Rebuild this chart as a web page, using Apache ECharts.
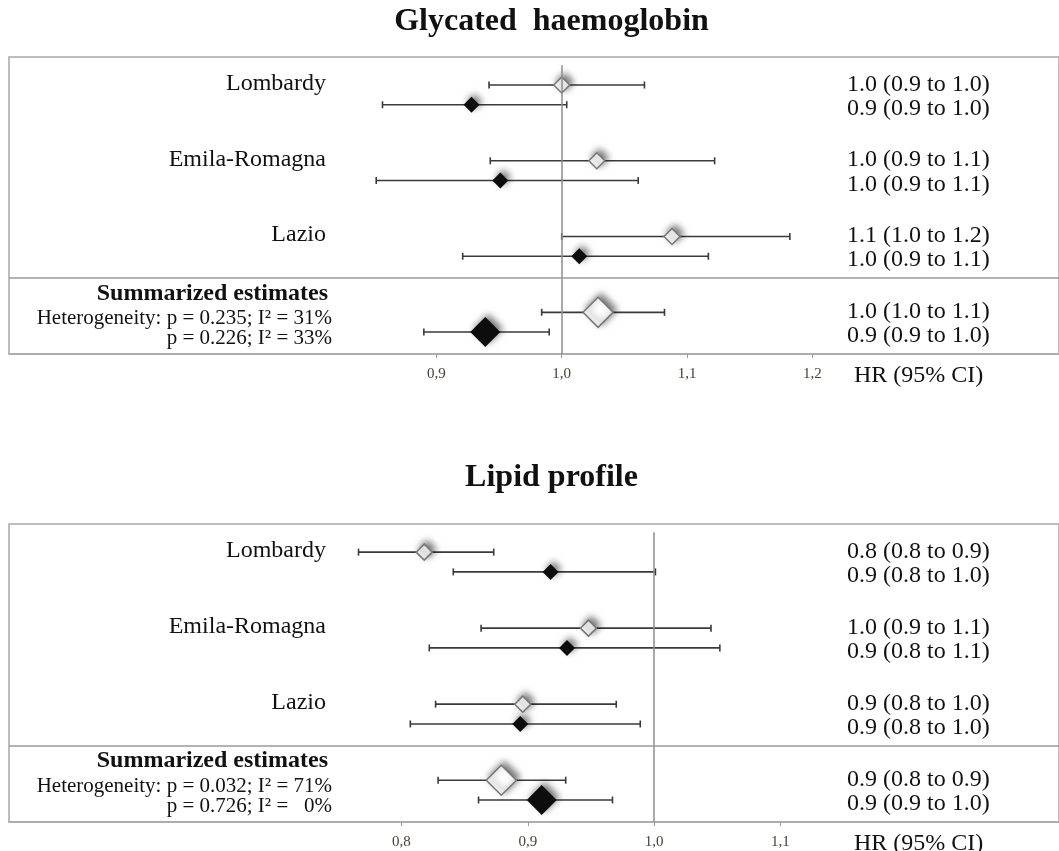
<!DOCTYPE html>
<html>
<head>
<meta charset="utf-8">
<script src="https://cdn.jsdelivr.net/npm/echarts@6/dist/echarts.min.js"></script>
<style>
  html, body { margin: 0; padding: 0; background: #ffffff; }
  #chart { width: 1059px; height: 851px; }
</style>
</head>
<body>
<div id="chart"></div>
<script>
// ---- data -------------------------------------------------------------
const regions = ['Lombardy', 'Emila-Romagna', 'Lazio'];
const summaryTitle = 'Summarized estimates';
const heteroPrefix = 'Heterogeneity: ';
const axisTitle = 'HR (95% CI)';

// Glycated haemoglobin (rows: Lombardy, Emila-Romagna, Lazio, summary)
const hbaTitle = 'Glycated  haemoglobin';
const hbaOpenHR   = [1.000, 1.028, 1.088, 1.029];
const hbaOpenLow  = [0.942, 0.943, 1.000, 0.984];
const hbaOpenHigh = [1.066, 1.122, 1.182, 1.082];
const hbaFillHR   = [0.928, 0.951, 1.014, 0.939];
const hbaFillLow  = [0.857, 0.852, 0.921, 0.890];
const hbaFillHigh = [1.004, 1.061, 1.117, 0.990];
const hbaOpenText = ['1.0 (0.9 to 1.0)', '1.0 (0.9 to 1.1)', '1.1 (1.0 to 1.2)', '1.0 (1.0 to 1.1)'];
const hbaFillText = ['0.9 (0.9 to 1.0)', '1.0 (0.9 to 1.1)', '1.0 (0.9 to 1.1)', '0.9 (0.9 to 1.0)'];
const hbaHetero   = ['p = 0.235; I² = 31%', 'p = 0.226; I² = 33%'];
const hbaTicks    = [0.9, 1.0, 1.1, 1.2];

// Lipid profile
const lipTitle = 'Lipid profile';
const lipOpenHR   = [0.818, 0.948, 0.896, 0.879];
const lipOpenLow  = [0.766, 0.863, 0.827, 0.829];
const lipOpenHigh = [0.873, 1.045, 0.970, 0.930];
const lipFillHR   = [0.918, 0.931, 0.894, 0.911];
const lipFillLow  = [0.841, 0.822, 0.807, 0.861];
const lipFillHigh = [1.001, 1.052, 0.989, 0.967];
const lipOpenText = ['0.8 (0.8 to 0.9)', '1.0 (0.9 to 1.1)', '0.9 (0.8 to 1.0)', '0.9 (0.8 to 0.9)'];
const lipFillText = ['0.9 (0.8 to 1.0)', '0.9 (0.8 to 1.1)', '0.9 (0.8 to 1.0)', '0.9 (0.9 to 1.0)'];
const lipHetero   = ['p = 0.032; I² = 71%', 'p = 0.726; I² =   0%'];
const lipTicks    = [0.8, 0.9, 1.0, 1.1];

// ---- layout -----------------------------------------------------------
const SERIF = '"Liberation Serif", "DejaVu Serif", serif';
const W = 1059;
const GRID_LEFT = 9, GRID_RIGHT = -3;
const ROW_OFF = 0.13;          // vertical offset of the two estimates in a group
const Y_MIN = -0.5, Y_MAX = 3.42, SEP_Y = 2.42, REF_TOP = -0.39;

const panels = [
  { title: hbaTitle, titleY: 22, top: 57, height: 297, oneAt: 563.3, pxPerUnit: 1257,
    openHR: hbaOpenHR, openLow: hbaOpenLow, openHigh: hbaOpenHigh,
    fillHR: hbaFillHR, fillLow: hbaFillLow, fillHigh: hbaFillHigh,
    openText: hbaOpenText, fillText: hbaFillText, hetero: hbaHetero, ticks: hbaTicks },
  { title: lipTitle, titleY: 478, top: 524, height: 298, oneAt: 656, pxPerUnit: 1267,
    openHR: lipOpenHR, openLow: lipOpenLow, openHigh: lipOpenHigh,
    fillHR: lipFillHR, fillLow: lipFillLow, fillHigh: lipFillHigh,
    openText: lipOpenText, fillText: lipFillText, hetero: lipHetero, ticks: lipTicks }
];

const chart = echarts.init(document.getElementById('chart'), null, { renderer: 'canvas' });

function renderCI(params, api) {
  const y = api.value(0);
  const a = api.coord([api.value(1), y]);
  const b = api.coord([api.value(2), y]);
  const cap = 3.5;
  const st = { stroke: '#3a3a3a', lineWidth: 1.6 };
  return {
    type: 'group',
    children: [
      { type: 'line', shape: { x1: a[0], y1: a[1], x2: b[0], y2: b[1] }, style: st },
      { type: 'line', shape: { x1: a[0], y1: a[1] - cap, x2: a[0], y2: a[1] + cap }, style: st },
      { type: 'line', shape: { x1: b[0], y1: b[1] - cap, x2: b[0], y2: b[1] + cap }, style: st }
    ]
  };
}

const diamondSize = (val, p) => (p.dataIndex === 3 ? 30 : 16);
const shadow = { shadowBlur: 7, shadowColor: 'rgba(0,0,0,0.55)', shadowOffsetX: 3, shadowOffsetY: -3 };

const grids = [], xAxes = [], yAxes = [], series = [];
panels.forEach((p, i) => {
  grids.push({ left: GRID_LEFT, right: GRID_RIGHT, top: p.top, height: p.height,
    show: true, borderColor: '#a8a8a8', borderWidth: 1.5, backgroundColor: 'transparent' });
  const xLeft = GRID_LEFT, xRight = W - GRID_RIGHT;
  xAxes.push({
    type: 'value', gridIndex: i, position: 'bottom',
    min: 1 - (p.oneAt - xLeft) / p.pxPerUnit,
    max: 1 + (xRight - p.oneAt) / p.pxPerUnit,
    axisLine: { show: true, onZero: false, lineStyle: { color: '#a8a8a8', width: 1.5 } },
    axisTick: { show: true, customValues: p.ticks, length: 4, lineStyle: { color: '#9a9a9a', width: 1 } },
    axisLabel: { show: true, customValues: p.ticks, margin: 13, fontFamily: SERIF, fontSize: 15,
      color: '#4a4035', formatter: v => v.toFixed(1).replace('.', ',') },
    splitLine: { show: false }
  });
  yAxes.push({ type: 'value', gridIndex: i, inverse: true, min: Y_MIN, max: Y_MAX, show: false });

  // reference line at HR = 1 and the separator above the summary row
  series.push({
    type: 'scatter', xAxisIndex: i, yAxisIndex: i, data: [], z: 1, silent: true,
    markLine: {
      silent: true, symbol: ['none', 'none'], label: { show: false }, animation: false,
      data: [
        [{ coord: [1, REF_TOP], lineStyle: { color: '#8c8c8c', width: 1.5, type: 'solid' } },
         { coord: [1, Y_MAX] }],
        { yAxis: SEP_Y, lineStyle: { color: '#9a9a9a', width: 1.5, type: 'solid' } }
      ]
    }
  });

  const openCI = p.openHR.map((v, k) => [k - ROW_OFF, p.openLow[k], p.openHigh[k]]);
  const fillCI = p.fillHR.map((v, k) => [k + ROW_OFF, p.fillLow[k], p.fillHigh[k]]);
  series.push({ type: 'custom', xAxisIndex: i, yAxisIndex: i, z: 2, silent: true,
    renderItem: renderCI, encode: { x: [1, 2], y: 0 }, data: openCI.concat(fillCI) });

  series.push({ type: 'scatter', xAxisIndex: i, yAxisIndex: i, z: 3, silent: true,
    symbol: 'diamond', symbolSize: diamondSize,
    itemStyle: Object.assign({ color: '#ffffff', borderColor: '#777777', borderWidth: 1.5, opacity: 1 }, shadow),
    data: p.openHR.map((v, k) => [v, k - ROW_OFF]) });
  series.push({ type: 'scatter', xAxisIndex: i, yAxisIndex: i, z: 4, silent: true,
    symbol: 'diamond', symbolSize: diamondSize,
    itemStyle: Object.assign({ color: '#0d0d0d', opacity: 1 }, shadow),
    data: p.fillHR.map((v, k) => [v, k + ROW_OFF]) });
});

chart.setOption({
  animation: false,
  backgroundColor: '#ffffff',
  grid: grids, xAxis: xAxes, yAxis: yAxes, series: series
});

// ---- text placed against the row positions --------------------------------
const graphics = [];
const txt = (x, y, text, opts) => graphics.push({
  type: 'text', x: x, y: y, silent: true,
  style: Object.assign({ text: text, fill: '#111111', font: '24px ' + SERIF,
    textAlign: 'left', textVerticalAlign: 'middle' }, opts || {})
});
panels.forEach((p, i) => {
  const py = v => chart.convertToPixel({ gridIndex: i }, [1, v])[1];
  txt(W / 2 + 22, p.titleY, p.title, { font: 'bold 32px ' + SERIF, textAlign: 'center' });
  regions.forEach((r, k) => txt(326, py(k - 0.15), r, { textAlign: 'right' }));
  txt(328, py(3 - 0.38), summaryTitle, { font: 'bold 24px ' + SERIF, textAlign: 'right' });
  txt(332, py(3 - 0.05), heteroPrefix + p.hetero[0], { font: '21px ' + SERIF, textAlign: 'right' });
  txt(332, py(3 + 0.22), p.hetero[1], { font: '21px ' + SERIF, textAlign: 'right' });
  p.openText.forEach((t, k) => txt(847, py(k - 0.14), t));
  p.fillText.forEach((t, k) => txt(847, py(k + 0.18), t));
  const axisY = p.top + p.height;
  txt(854, axisY + 22, axisTitle);
});
chart.setOption({ graphic: graphics });
</script>
</body>
</html>
